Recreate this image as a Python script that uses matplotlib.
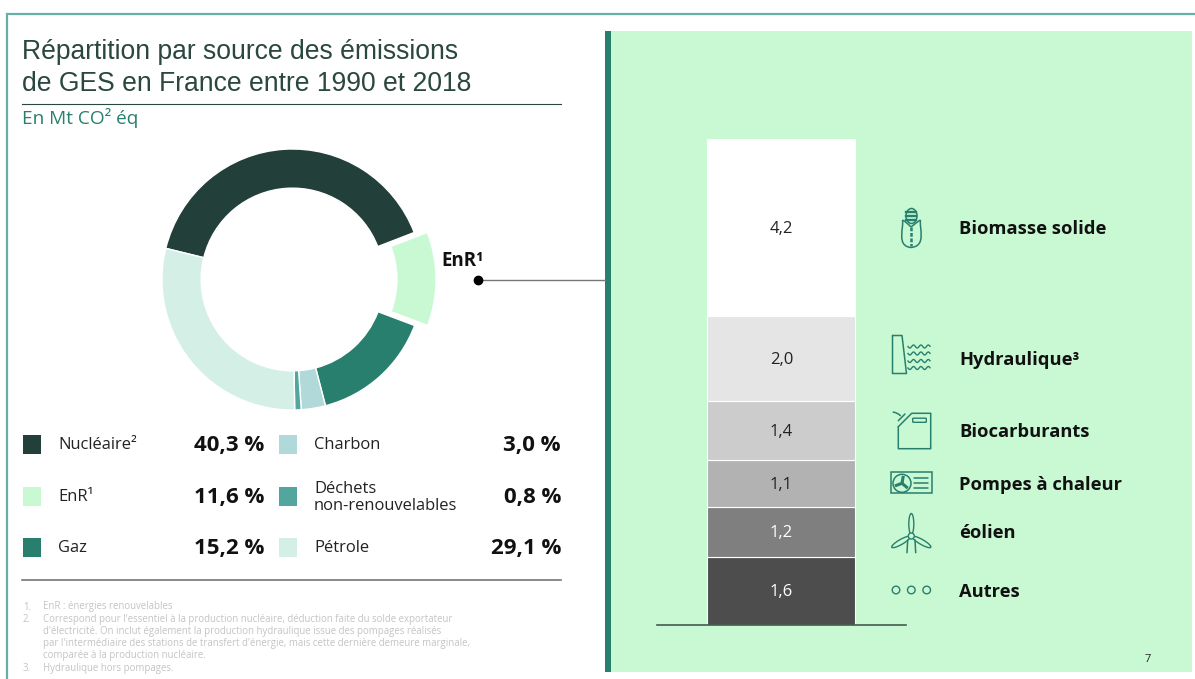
import matplotlib
matplotlib.use('Agg')
import matplotlib.pyplot as plt
from matplotlib.patches import Rectangle, Circle, Ellipse, PathPatch, FancyBboxPatch
from matplotlib.path import Path
import numpy as np

W, H = 1195, 679

# donut
sources = ['Nucléaire²', 'EnR¹', 'Gaz', 'Charbon', 'Déchets\nnon-renouvelables', 'Pétrole']
shares = [40.3, 11.6, 15.2, 3.0, 0.8, 29.1]
share_labels = ['40,3 %', '11,6 %', '15,2 %', '3,0 %', '0,8 %', '29,1 %']
donut_colors = ['#233f39', '#c9f9d3', '#287f6e', '#b2d9d9', '#53a69d', '#d4efe5']

# stacked bar, bottom to top
enr_names = ['Autres', 'éolien', 'Pompes à chaleur', 'Biocarburants', 'Hydraulique³', 'Biomasse solide']
enr_values = [1.6, 1.2, 1.1, 1.4, 2.0, 4.2]
enr_labels = ['1,6', '1,2', '1,1', '1,4', '2,0', '4,2']
enr_colors = ['#4d4d4d', '#7f7f7f', '#b2b2b2', '#cccccc', '#e5e5e5', '#ffffff']

notes = [
    ('1.', ['EnR : énergies renouvelables']),
    ('2.', ["Correspond pour l'essentiel à la production nucléaire, déduction faite du solde exportateur",
            "d'électricité. On inclut également la production hydraulique issue des pompages réalisés",
            "par l'intermédiaire des stations de transfert d'énergie, mais cette dernière demeure marginale,",
            'comparée à la production nucléaire.']),
    ('3.', ['Hydraulique hors pompages.']),
]

BODY = 'Open Sans'
GREEN = '#287f6e'
DARK = '#2a4740'
PANEL = '#c9f9d3'


def axes_px(fig, x0, y0, x1, y1, **kw):
    return fig.add_axes([x0 / W, 1 - y1 / H, (x1 - x0) / W, (y1 - y0) / H], **kw)


fig = plt.figure(figsize=(W / 100, H / 100), dpi=100, facecolor='white')

# background layer in pixel coordinates
bg = axes_px(fig, 0, 0, W, H)
bg.set_xlim(0, W)
bg.set_ylim(H, 0)
bg.axis('off')
bg.add_patch(Rectangle((611, 31), 1192 - 611, 641, color=PANEL, lw=0))
bg.add_patch(Rectangle((605, 31), 6, 641, color=GREEN, lw=0))
bg.plot([7.5, 7.5, W], [H, 14, 14], color='#68b0a6', lw=1.6, solid_joinstyle='miter')

bg.text(22, 52, 'Répartition par source des émissions', family='Liberation Sans', fontsize=19.1,
        color=DARK, va='center')
bg.text(22, 84, 'de GES en France entre 1990 et 2018', family='Liberation Sans', fontsize=19.1,
        color=DARK, va='center')
bg.plot([22, 561], [103.5, 103.5], color=DARK, lw=0.8)
bg.text(22, 118.5, 'En Mt CO² éq', family=BODY, fontsize=13.7, color=GREEN, va='center')

# legend
rows_y = [444, 496, 547, 444, 496, 547]
for i in range(6):
    left = i < 3
    bg.add_patch(Rectangle((23 if left else 279, rows_y[i] - 9.5), 18, 19, color=donut_colors[i], lw=0))
    bg.text(58 if left else 314, rows_y[i] + 1.2, sources[i], family=BODY, fontsize=11.9, color='#222222',
            va='center', linespacing=1.05)
    bg.text(264 if left else 561, rows_y[i] + 1.5, share_labels[i], family=BODY, fontsize=16, fontweight='bold',
            color='#111111', ha='right', va='center')
bg.plot([22, 561], [580, 580], color='#777777', lw=1.2)

# footnotes
y = 607
for num, lines in notes:
    bg.text(23, y, num, family=BODY, fontsize=6.96, color='#c4c4c4', va='center')
    for line in lines:
        bg.text(43, y, line, family=BODY, fontsize=6.96, color='#c4c4c4', va='center')
        y += 12.2

# callout
bg.text(441, 261, 'EnR¹', family=BODY, fontsize=13.5, fontweight='bold', color='#111111', va='center')
bg.plot([478, 605], [280, 280], color='#777777', lw=1)
bg.plot([478], [280], 'o', color='black', ms=6)

# donut
ax = axes_px(fig, 142.5, 129.5, 442.5, 429.5)
ax.pie(shares, colors=donut_colors, startangle=166.2, counterclock=False, radius=1,
       explode=[0, 0.1, 0, 0, 0, 0],
       wedgeprops=dict(width=0.3, edgecolor='white', linewidth=1))
ax.set_xlim(-150 / 130.5, 150 / 130.5)
ax.set_ylim(-150 / 130.5, 150 / 130.5)
ax.set_aspect('auto')

# stacked bar
bx = axes_px(fig, 657, 139, 906, 625)
bx.patch.set_alpha(0)
bottom = 0
for i in range(len(enr_values)):
    bx.bar(0, enr_values[i], bottom=bottom, width=148, color=enr_colors[i], edgecolor='white', linewidth=0.8)
    bx.text(0, bottom + enr_values[i] / 2 - 0.03, enr_labels[i], family=BODY, fontsize=12, ha='center', va='center',
            color='white' if i < 2 else '#222222')
    bottom += enr_values[i]
bx.set_xlim(-124.5, 124.5)
bx.set_ylim(0, sum(enr_values))
for s in ['top', 'left', 'right']:
    bx.spines[s].set_visible(False)
bx.spines['bottom'].set_color('#445a50')
bx.spines['bottom'].set_linewidth(1.2)
bx.set_xticks([])
bx.set_yticks([])

# names beside the bar
name_y = [591, 532, 484, 431, 359, 228]
for i in range(6):
    bg.text(959, name_y[i] + 1.3, enr_names[i], family=BODY, fontsize=13.2, fontweight='bold', color='#111111',
            va='center')

bg.text(1148, 660, '7', family=BODY, fontsize=8, color='#222222', ha='center', va='center')

# icons
ic = dict(color=GREEN, lw=1.1, solid_capstyle='round')


def curve(points):
    codes = [Path.MOVETO] + [Path.CURVE4] * (len(points) - 1)
    return PathPatch(Path(points, codes), fill=False, ec=GREEN, lw=1.1)


# biomasse: cob with husk
bg.add_patch(Ellipse((911.5, 216), 11, 15, fill=False, ec=GREEN, lw=1.1))
for yy in [212, 216, 220]:
    bg.plot([906.5, 916.5], [yy, yy], color=GREEN, lw=1.7)
bg.add_patch(curve([(902.5, 220), (904, 228), (896, 246), (911, 247.5)]))
bg.add_patch(curve([(920.5, 220), (919, 228), (927, 246), (911, 247.5)]))
bg.add_patch(curve([(902.5, 220), (906, 222), (908, 224), (911, 227)]))
bg.add_patch(curve([(920.5, 220), (917, 222), (915, 224), (911, 227)]))
bg.plot([911, 911], [227, 246], color=GREEN, lw=1.8, ls=(0, (1.5, 0.7)))
# hydraulique: dam and waves
bg.plot([892.5, 902, 906.5, 892.5, 892.5], [335.5, 335.5, 373.5, 373.5, 335.5], **ic)
xw = np.linspace(908, 930, 60)
for yy in [346.5, 353.5, 361, 368]:
    bg.plot(xw, yy + 1.5 * np.sin((xw - 908) * 0.85), color=GREEN, lw=1)
# biocarburants: jerrycan
bg.plot([898.3, 911.7, 930.7, 930.7, 898.3, 898.3], [426.7, 413.3, 413.3, 448.7, 448.7, 426.7], **ic)
bg.add_patch(FancyBboxPatch((913.5, 419), 12, 2.5, boxstyle='round,pad=0.8', fill=False, ec=GREEN, lw=1))
bg.add_patch(curve([(892.7, 412), (896, 412.5), (899, 414), (900.7, 416)]))
bg.plot([898.3, 905], [420.7, 414], **ic)
# pompes: fan unit
bg.add_patch(Rectangle((891.3, 472.3), 40.4, 21, fill=False, ec=GREEN, lw=1.1))
bg.add_patch(Circle((902, 483.3), 9, fill=False, ec=GREEN, lw=1.1))
for a in [80, 200, 320]:
    bg.plot([902, 902 + 6 * np.cos(np.radians(a))], [483.3, 483.3 - 6 * np.sin(np.radians(a))], color=GREEN, lw=2.2)
for yy in [478.3, 483, 487.5]:
    bg.plot([914, 928.3], [yy, yy], **ic)
# eolien
hub = (911.3, 536)
for a in [90, 210, 330]:
    e = Ellipse((hub[0] + 12 * np.cos(np.radians(a)), hub[1] - 12 * np.sin(np.radians(a))), 21, 5,
                angle=-a, fill=False, ec=GREEN, lw=1)
    bg.add_patch(e)
bg.add_patch(Circle(hub, 3, ec=GREEN, lw=1, fc=PANEL, zorder=3))
bg.plot([907.7, 907], [540, 552.7], **ic)
bg.plot([915, 915.7], [540, 552.7], **ic)
# autres
for xc in [896, 911.3, 926.7]:
    bg.add_patch(Circle((xc, 590), 3.8, fill=False, ec=GREEN, lw=1))

fig.savefig('out.png', dpi=100)
